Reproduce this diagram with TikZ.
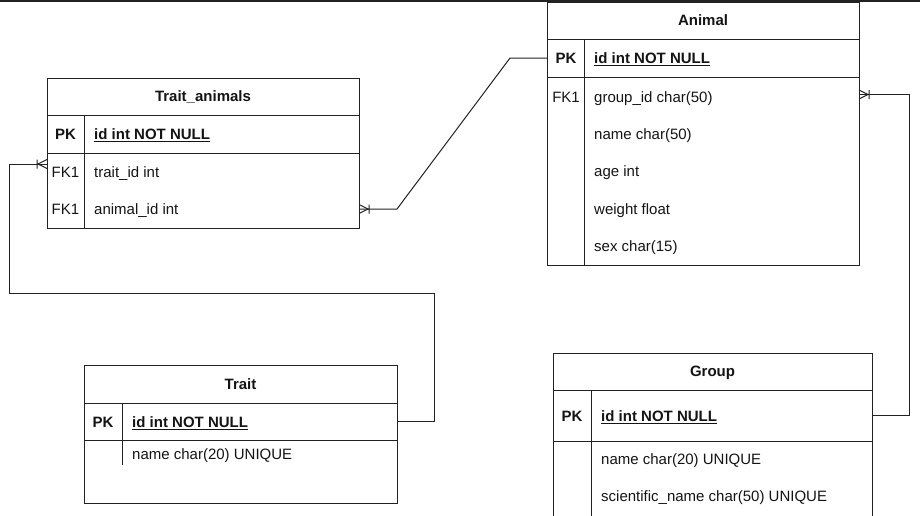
\documentclass[tikz,border=0pt]{standalone}
\usepackage{fontspec}
\setmainfont{Liberation Sans}
\usepackage{tikz}
\usetikzlibrary{decorations.markings}
\definecolor{erline}{RGB}{34,34,34}
\definecolor{erink}{RGB}{20,20,20}
\newcommand{\erfont}{\fontsize{15}{18}\selectfont}
\newcommand{\pkline}[1]{\setbox0\hbox{#1}\rlap{\rule[-2.5pt]{\wd0}{1pt}}\box0}

\begin{document}
\begin{tikzpicture}[x=1pt, y=-1pt,
    band/.style={rectangle, draw=erline, line width=1pt,
                 anchor=north west, inner sep=0pt, outer sep=0pt},
    head/.style={band, minimum height=37pt, font=\erfont\bfseries,
                 text=erink, text height=10.7pt, text depth=0pt},
    keytxt/.style={inner sep=0pt, font=\erfont\bfseries, text=erink,
                   text height=10.7pt, text depth=0pt},
    fktxt/.style={keytxt, font=\erfont},
    field/.style={anchor=west, inner sep=0pt, font=\erfont, text=erink,
                  text height=10.7pt, text depth=0pt},
    pkfield/.style={field, font=\erfont\bfseries},
    sep/.style={draw=erline, line width=1pt},
    crow/.style={postaction={decorate, decoration={markings,
        mark=at position 1 with {\draw[erline, line width=1pt]
            (0,4.5pt) -- (-9pt,0) -- (0,-4.5pt)
            (-10pt,-4.5pt) -- (-10pt,4.5pt);}}}},
    rel/.style={draw=erline, line width=1pt, crow}
]
    \useasboundingbox (0,0) rectangle (920,515);
    \clip (0,0) rectangle (920,515);
    \draw[erline, line width=1.5pt] (0,0.75) -- (920,0.75);

    % Trait_animals
    \node[head, minimum width=312pt] (ta-head) at (47,78) {Trait\_animals};
    \node[band, minimum width=312pt, minimum height=38pt] (ta-pk) at (ta-head.south west) {};
    \node[band, minimum width=312pt, minimum height=75pt] (ta-body) at (ta-pk.south west) {};
    \draw[sep] (84,115) -- (84,228);
    \node[keytxt] (ta-k0) at (65.5,134) {PK};
    \node[pkfield] (ta-id) at (94,134) {\pkline{id int NOT NULL}};
    \node[fktxt] (ta-k1) at (65.5,172) {FK1};
    \node[field] (ta-trait) at (94,172) {trait\_id int};
    \node[fktxt] (ta-k2) at (65.5,209) {FK1};
    \node[field] (ta-animal) at (94,209) {animal\_id int};

    % Animal
    \node[head, minimum width=312pt] (an-head) at (547,2) {Animal};
    \node[band, minimum width=312pt, minimum height=38pt] (an-pk) at (an-head.south west) {};
    \node[band, minimum width=312pt, minimum height=188pt] (an-body) at (an-pk.south west) {};
    \draw[sep] (584.5,39) -- (584.5,265);
    \node[keytxt] (an-k0) at (566,58.5) {PK};
    \node[pkfield] (an-id) at (594,58.5) {\pkline{id int NOT NULL}};
    \node[fktxt] (an-k1) at (566,97) {FK1};
    \node[field] (an-group) at (594,97) {group\_id char(50)};
    \node[field] (an-name) at (594,134) {name char(50)};
    \node[field] (an-age) at (594,171.5) {age int};
    \node[field] (an-weight) at (594,208.7) {weight float};
    \node[field] (an-sex) at (594,246.5) {sex char(15)};

    % Trait
    \node[head, minimum width=313pt, minimum height=38pt] (tr-head) at (84,365) {Trait};
    \node[band, minimum width=313pt, minimum height=37pt] (tr-pk) at (tr-head.south west) {};
    \node[band, minimum width=313pt, minimum height=63pt] (tr-body) at (tr-pk.south west) {};
    \draw[sep] (122,403) -- (122,465);
    \node[keytxt] (tr-k0) at (103,422) {PK};
    \node[pkfield] (tr-id) at (132,422) {\pkline{id int NOT NULL}};
    \node[field] (tr-name) at (132,454) {name char(20) UNIQUE};

    % Group
    \node[head, minimum width=319pt] (gr-head) at (553,353) {Group};
    \node[band, minimum width=319pt, minimum height=51pt] (gr-pk) at (gr-head.south west) {};
    \node[band, minimum width=319pt, minimum height=90pt] (gr-body) at (gr-pk.south west) {};
    \draw[sep] (591,390) -- (591,530);
    \node[keytxt] (gr-k0) at (572,416) {PK};
    \node[pkfield] (gr-id) at (601,416) {\pkline{id int NOT NULL}};
    \node[field] (gr-name) at (601,459) {name char(20) UNIQUE};
    \node[field] (gr-sci) at (601,496.5) {scientific\_name char(50) UNIQUE};

    % relations
    \draw[rel] (an-pk.west) -- ++(-37,0) -- (397,209) -- (ta-body.east |- 0,209);
    \draw[rel] (tr-pk.east) -- ++(37,0) -- (434,293) -- (9,293) -- (9,164)
        -- (ta-body.west |- 0,164);
    \draw[rel] (gr-pk.east) -- ++(37,0) -- (909,94.5) -- (an-body.east |- 0,94.5);
\end{tikzpicture}
\end{document}
